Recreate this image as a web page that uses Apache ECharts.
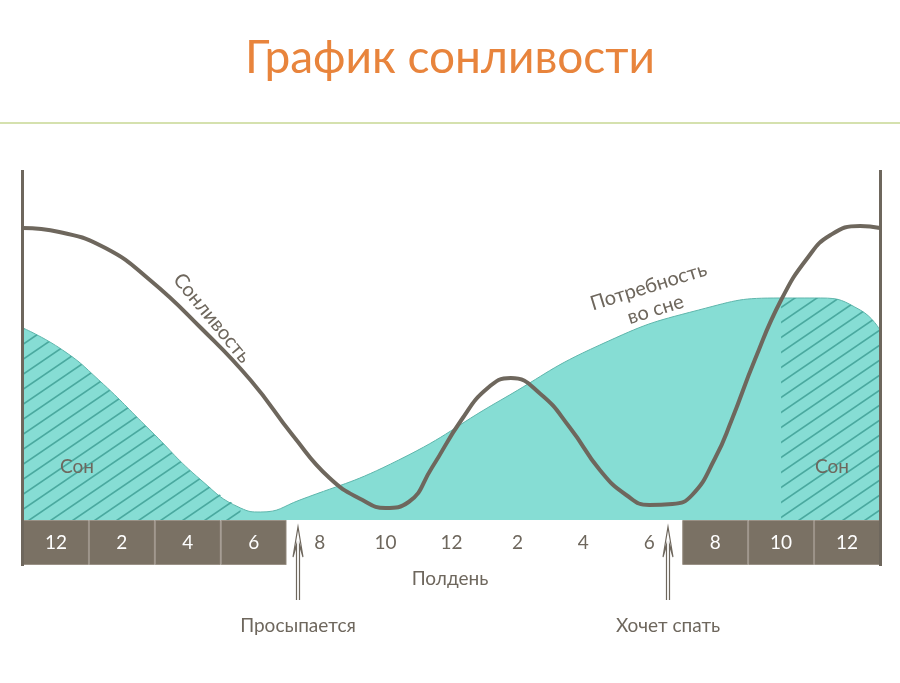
<!DOCTYPE html>
<html><head><meta charset="utf-8">
<script src="https://cdn.jsdelivr.net/npm/echarts@6/dist/echarts.min.js"></script>
<style>html,body{margin:0;background:#fff}#c{width:900px;height:683px}</style>
</head><body><div id="c"></div>
<script>
// hours: 0 = midnight (first cell), 24 = next midnight
const hourLabels = ['12', '2', '4', '6', '8', '10', '12', '2', '4', '6', '8', '10', '12'];
const asleepCells = [1, 1, 1, 1, 0, 0, 0, 0, 0, 0, 1, 1, 1];

const sleepinessX = [-1, 0.1, 1.5, 2.85, 4.4, 5.9, 7.2, 8.3, 9.3, 10, 10.7, 11.4, 12.3, 13.1, 13.8, 14.7, 15.6, 16.5, 17.3, 18, 18.7, 19.3, 20, 20.5, 21.2, 22, 22.8, 23.5, 24.4, 25];
const sleepinessY = [292, 288, 272, 240, 192, 140, 84, 42, 20, 12, 18, 52, 100, 132, 142, 126, 92, 50, 25, 15, 16, 25, 62, 100, 160, 220, 262, 285, 294, 292];

const needX = [-1, 0.2, 1.3, 2.85, 4.4, 5.6, 6.2, 7.4, 10.4, 13.5, 16.5, 19.5, 22, 23.2, 24.4, 25];
const needY = [192, 170, 140, 90, 40, 12, 8, 20, 60, 120, 175, 210, 222, 222, 210, 190];

function pts(xs, ys, from, to) {
  const r = [];
  xs.forEach((x, i) => { if (x >= from && x <= to) r.push([x, ys[i]]); });
  return r;
}

const tile = document.createElement('canvas');
tile.width = 22; tile.height = 15;
const g = tile.getContext('2d');
g.strokeStyle = '#4aa99f'; g.lineWidth = 1.6;
g.beginPath(); g.moveTo(-2, 16.4); g.lineTo(24, -1.4); g.stroke();
g.beginPath(); g.moveTo(-24, 16.4); g.lineTo(2, -1.4); g.stroke();
g.beginPath(); g.moveTo(20, 16.4); g.lineTo(46, -1.4); g.stroke();
const hatch = { image: tile, repeat: 'repeat' };

const ink = '#6e675d';
const font = 'Lato, "Open Sans", sans-serif';
const chart = echarts.init(document.getElementById('c'));

function arrow(x) {
  return { type: 'polyline', shape: { points: [[x - 1.5, 600], [x - 1.5, 545], [x - 5, 557], [x, 527], [x + 5, 557], [x + 1.5, 545], [x + 1.5, 600]] },
    style: { fill: '#fff', stroke: ink, lineWidth: 1.2 }, z: 20 };
}

chart.setOption({
  animation: false,
  grid: [
    { left: 23, right: 20, top: 170, height: 350 },
    { left: 23, right: 20, top: 520, height: 45 }
  ],
  xAxis: [
    { type: 'value', gridIndex: 0, min: -1, max: 25, show: false },
    { type: 'category', gridIndex: 1, data: hourLabels, show: false }
  ],
  yAxis: [
    { type: 'value', gridIndex: 0, min: 0, max: 350, show: false },
    { type: 'value', gridIndex: 1, min: 0, max: 1, show: false }
  ],
  series: [
    { type: 'line', data: pts(needX, needY, -9, 99), smooth: 0.5, symbol: 'none',
      lineStyle: { color: '#5fb6ac', width: 1 }, areaStyle: { color: '#86ddd4', opacity: 1 }, z: 1 },
    { type: 'line', data: pts(needX, needY, -9, 5.6), smooth: 0.5, symbol: 'none',
      lineStyle: { width: 0 }, areaStyle: { color: hatch, opacity: 1 }, z: 2 },
    { type: 'line', data: [[22, 222]].concat(pts(needX, needY, 22.5, 99)), smooth: 0.5, symbol: 'none',
      lineStyle: { width: 0 }, areaStyle: { color: hatch, opacity: 1 }, z: 2 },
    { type: 'line', data: pts(sleepinessX, sleepinessY, -9, 99), smooth: 0.5, symbol: 'none',
      lineStyle: { color: ink, width: 4 }, z: 3 },
    { type: 'bar', xAxisIndex: 1, yAxisIndex: 1, barCategoryGap: 0,
      data: asleepCells.map(a => ({ value: 1, itemStyle: { color: a ? '#7a7164' : '#fff', borderColor: a ? '#9a9186' : '#fff', borderWidth: 1 },
        label: { color: a ? '#fff' : ink } })),
      label: { show: true, position: 'inside', formatter: p => hourLabels[p.dataIndex], fontSize: 19, fontFamily: font } }
  ],
  graphic: [
    { type: 'text', left: 'center', top: 35, style: { text: 'График сонливости', fill: '#e8843c', font: '46px ' + font } },
    { type: 'rect', shape: { x: 0, y: 122, width: 900, height: 2 }, style: { fill: '#d5e1ae' } },
    { type: 'rect', shape: { x: 21, y: 170, width: 3, height: 396 }, style: { fill: ink }, z: 10 },
    { type: 'rect', shape: { x: 879, y: 170, width: 3, height: 396 }, style: { fill: ink }, z: 10 },
    { type: 'text', x: 212, y: 318, rotation: -0.88, style: { text: 'Сонливость', fill: ink, font: '20px ' + font, align: 'center', verticalAlign: 'middle' }, z: 10 },
    { type: 'text', x: 652, y: 298, rotation: 0.3, style: { text: 'Потребность\nво сне', fill: ink, font: '20px ' + font, align: 'center', verticalAlign: 'middle', lineHeight: 24 }, z: 10 },
    { type: 'text', x: 77, y: 467, style: { text: 'Сон', fill: ink, font: '19px ' + font, align: 'center', verticalAlign: 'middle' }, z: 10 },
    { type: 'text', x: 832, y: 467, style: { text: 'Сон', fill: ink, font: '19px ' + font, align: 'center', verticalAlign: 'middle' }, z: 10 },
    { type: 'text', x: 450, y: 579, style: { text: 'Полдень', fill: ink, font: '19px ' + font, align: 'center', verticalAlign: 'middle' }, z: 10 },
    { type: 'text', x: 298, y: 626, style: { text: 'Просыпается', fill: ink, font: '19px ' + font, align: 'center', verticalAlign: 'middle' }, z: 10 },
    { type: 'text', x: 668, y: 626, style: { text: 'Хочет спать', fill: ink, font: '19px ' + font, align: 'center', verticalAlign: 'middle' }, z: 10 },
    arrow(298), arrow(668)
  ]
});
</script></body></html>
